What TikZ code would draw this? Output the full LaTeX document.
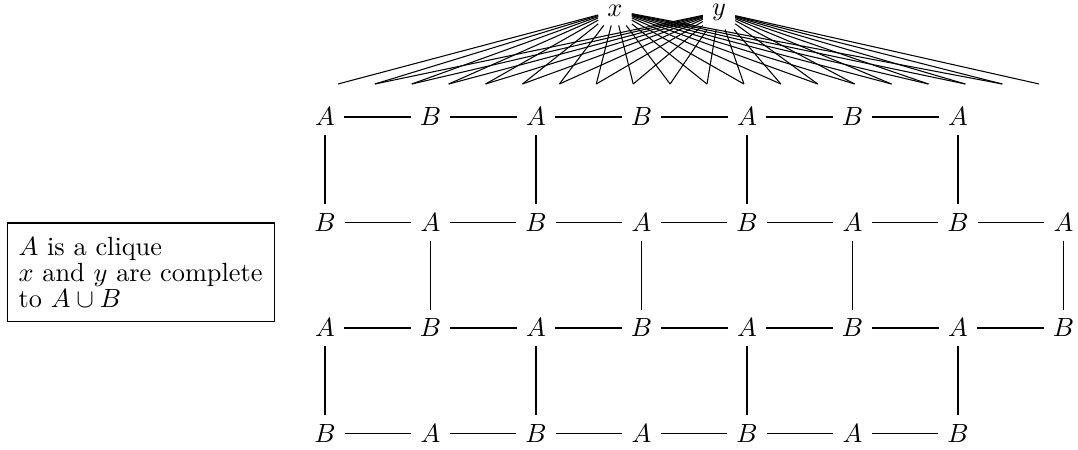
\documentclass[tikz,border=0pt]{standalone}
\begin{document}
\begin{tikzpicture}[x=0.38pt,y=-0.38pt,
  lbl/.style={inner sep=3.333pt},
  edge/.style={line width=0.4pt},
  notebox/.style={draw, line width=0.4pt, align=left, text width=93pt, inner xsep=4.2pt,
    minimum height=37.6pt, font={\fontsize{10pt}{9.8pt}\selectfont}}]
\useasboundingbox (0,0) rectangle (1078,450);
% grid nodes
\foreach \r/\n in {0/6,1/7,2/7,3/6} {
  \foreach \c in {0,...,\n} {
    \pgfmathtruncatemacro\p{mod(\r+\c,2)}
    \ifnum\p=0 \def\L{A}\else\def\L{B}\fi
    \node[lbl] (n\r-\c) at ({325+105.5*\c},{117+105.5*\r}) {$\L$};
  }
}
% horizontal edges
\foreach \r/\n in {0/6,1/7,2/7,3/6} {
  \foreach \c in {1,...,\n} {
    \pgfmathtruncatemacro\q{\c-1}
    \draw[edge] (n\r-\q) -- (n\r-\c);
  }
}
% vertical edges
\foreach \c in {0,2,4,6} {
  \draw[edge] (n0-\c) -- (n1-\c);
  \draw[edge] (n2-\c) -- (n3-\c);
}
\foreach \c in {1,3,5,7} {
  \draw[edge] (n1-\c) -- (n2-\c);
}
% x and y
\node[lbl] (x) at (615,10.5) {$x$};
\node[lbl] (y) at (719,12) {$y$};
\foreach \k in {0,...,19} {
  \coordinate (e\k) at ({338+36.9*\k},84);
}
\foreach \k in {0,...,18} { \draw[edge] (x) -- (e\k); }
\foreach \k in {1,...,19} { \draw[edge] (y) -- (e\k); }
% note
\node[notebox] (note) at (141,272.5) {$A$ is a clique\\ $x$ and $y$ are complete\\ to $A\cup B$};
\end{tikzpicture}
\end{document}
